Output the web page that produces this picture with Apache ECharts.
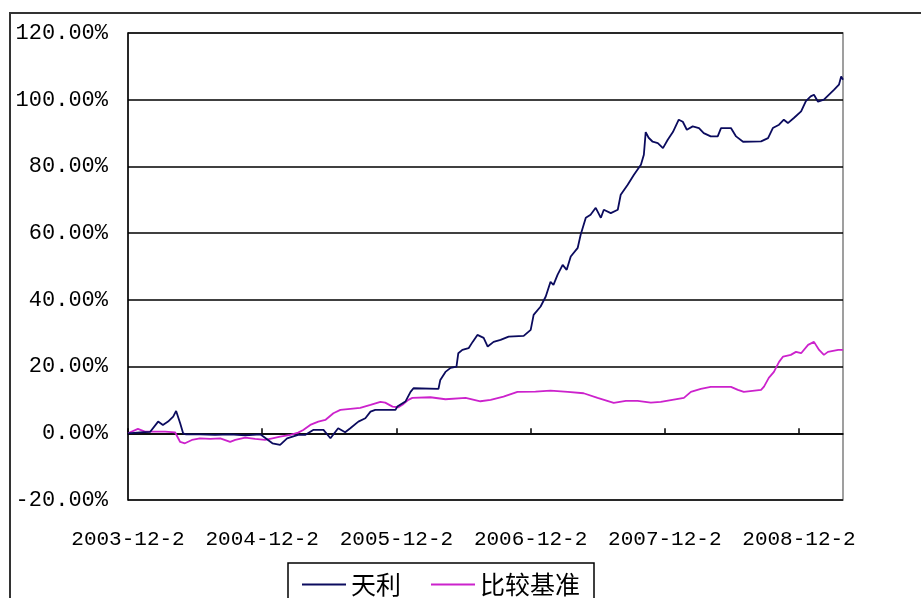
<!DOCTYPE html>
<html>
<head>
<meta charset="utf-8">
<script src="https://cdn.jsdelivr.net/npm/echarts@6/dist/echarts.min.js"></script>
<style>
html,body{margin:0;padding:0;background:#fff;}
#chart{width:921px;height:598px;}
</style>
</head>
<body>
<div id="chart"></div>
<script>
// Days since 2003-12-02
const xTickLabels = ['2003-12-2','2004-12-2','2005-12-2','2006-12-2','2007-12-2','2008-12-2'];
const seriesNames = ['天利','比较基准'];

const tianliDays = [0,33,60,82,95,109,123,131,142,150,158,196,237,278,319,360,393,414,433,463,482,504,532,551,572,591,605,627,646,660,673,728,733,755,769,777,845,850,864,878,894,899,910,927,938,951,968,979,995,1014,1036,1077,1096,1104,1123,1137,1150,1158,1169,1183,1194,1205,1224,1232,1246,1259,1273,1287,1295,1314,1333,1341,1360,1377,1396,1404,1409,1417,1428,1442,1456,1469,1483,1499,1510,1521,1537,1554,1567,1586,1605,1614,1641,1655,1674,1723,1742,1755,1772,1785,1796,1813,1832,1845,1858,1867,1878,1894,1908,1922,1935,1941,1946];
const tianliValues = [0,0.3,0.4,3.5,2.5,3.5,5,6.7,3,0,-0.3,-0.3,-0.5,-0.3,-0.6,-0.3,-3,-3.5,-1.5,-0.5,-0.5,1,1,-1.5,1.5,0.3,1.5,3.5,4.5,6.5,7,7,8,9.5,12.4,13.5,13.3,16,18.4,19.6,20,24,25,25.5,27.4,29.5,28.6,26,27.4,28,29,29.2,31,35.5,38,41,45.4,44.5,47.5,50.5,49,53,55.6,59.5,64.6,65.5,67.6,64.6,67,66,67,71.5,74.5,77.5,80.5,83.5,90.3,88.6,87.4,87,85.5,88,90.3,94,93.4,91,92,91.5,90,89,89,91.5,91.5,89,87.4,87.5,88.5,91.5,92.5,94,93,94.6,96.5,99.6,101,101.5,99.4,100,101.5,103,104.5,107,106];

const benchDays = [0,27,46,101,128,142,155,174,196,224,251,278,292,319,346,373,393,414,442,463,477,496,518,537,559,578,605,632,660,687,700,720,736,750,763,774,823,864,919,959,987,1022,1060,1109,1150,1197,1240,1278,1322,1355,1387,1423,1450,1513,1532,1559,1586,1641,1660,1676,1723,1731,1744,1758,1772,1783,1804,1818,1832,1851,1867,1881,1894,1905,1933,1946];
const benchValues = [0,1.3,0.5,0.5,0.3,-2.6,-3,-2,-1.5,-1.7,-1.5,-2.6,-2,-1.3,-1.7,-2,-1.5,-1,-0.5,0.2,1,2.5,3.5,4,6,7,7.3,7.6,8.5,9.4,9.2,8,7.8,8.8,10,10.6,10.8,10.2,10.6,9.6,10,11,12.4,12.5,12.8,12.4,12,10.6,9.1,9.7,9.7,9.2,9.4,10.6,12.4,13.3,13.9,13.9,13,12.4,13,14,16.6,18.4,21.4,23,23.5,24.4,24,26.5,27.4,25,23.5,24.4,25,25];

const yMin = -20, yMax = 120, yStep = 20;
const yearDays = 365.25;

const chart = echarts.init(document.getElementById('chart'));
const monoFont = '"Liberation Mono", "DejaVu Sans Mono", monospace';

chart.setOption({
  animation: false,
  backgroundColor: '#fff',
  graphic: [{
    type: 'rect',
    shape: {x: 10, y: 13, width: 1000, height: 700},
    style: {fill: 'none', stroke: '#333', lineWidth: 2},
    silent: true, z: -1
  }],
  grid: {
    left: 128, top: 33, right: 78, bottom: 98,
    show: true, borderColor: '#808080', borderWidth: 1.5, backgroundColor: '#fff'
  },
  legend: {
    left: 288, top: 563,
    data: seriesNames,
    icon: 'rect',
    itemWidth: 44, itemHeight: 2, itemGap: 30,
    padding: [9, 14, 9, 14],
    borderColor: '#000', borderWidth: 1.5,
    textStyle: {fontFamily: '"Noto Sans CJK SC", sans-serif', fontSize: 25, color: '#000'}
  },
  xAxis: {
    type: 'value',
    min: 0, max: 1946, interval: yearDays,
    axisLine: {show: true, lineStyle: {color: '#000', width: 1.5}},
    axisTick: {show: true, inside: true, length: 5, lineStyle: {color: '#000', width: 1.5}},
    splitLine: {show: false},
    axisLabel: {
      margin: 29, color: '#000', fontFamily: monoFont, fontSize: 21,
      showMinLabel: true, showMaxLabel: false,
      formatter: function (v) {
        const i = Math.round(v / yearDays);
        if (Math.abs(v - i * yearDays) < 1 && i < xTickLabels.length) return xTickLabels[i];
        return '';
      }
    }
  },
  yAxis: {
    type: 'value',
    min: yMin, max: yMax, interval: yStep,
    axisLine: {show: true, lineStyle: {color: '#000', width: 1.5}},
    axisTick: {show: false},
    splitLine: {show: true, lineStyle: {color: '#000', width: 1.5}},
    axisLabel: {
      margin: 20, color: '#000', fontFamily: monoFont, fontSize: 22,
      formatter: function (v) { return v.toFixed(2) + '%'; }
    }
  },
  series: [{
    name: seriesNames[0],
    type: 'line',
    symbol: 'none',
    data: tianliDays.map((d, i) => [d, tianliValues[i]]),
    lineStyle: {color: '#0b0b5e', width: 1.8},
    itemStyle: {color: '#0b0b5e'},
    z: 3
  }, {
    name: seriesNames[1],
    type: 'line',
    symbol: 'none',
    data: benchDays.map((d, i) => [d, benchValues[i]]),
    lineStyle: {color: '#cc22cc', width: 1.8},
    itemStyle: {color: '#cc22cc'},
    z: 2
  }]
});
</script>
</body>
</html>
